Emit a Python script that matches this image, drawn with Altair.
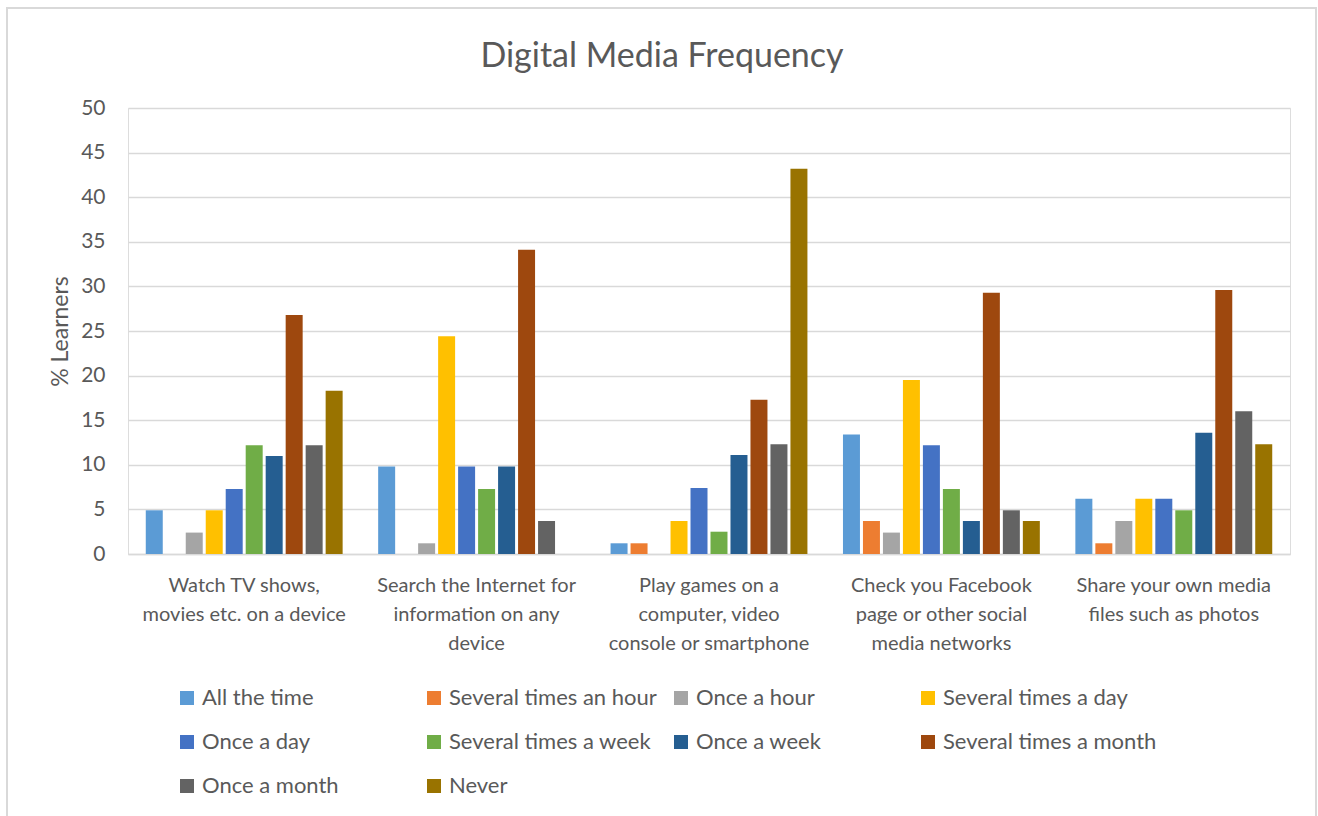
import altair as alt
import pandas as pd

# Activities (x categories); "\n" marks where each axis label wraps
categories = [
    "Watch TV shows,\nmovies etc. on a device",
    "Search the Internet for\ninformation on any\ndevice",
    "Play games on a\ncomputer, video\nconsole or smartphone",
    "Check you Facebook\npage or other social\nmedia networks",
    "Share your own media\nfiles such as photos",
]

# Frequency answers (series), in legend order
frequencies = [
    "All the time",
    "Several times an hour",
    "Once a hour",
    "Several times a day",
    "Once a day",
    "Several times a week",
    "Once a week",
    "Several times a month",
    "Once a month",
    "Never",
]

colors = [
    "#5B9BD5", "#ED7D31", "#A5A5A5", "#FFC000", "#4472C4",
    "#70AD47", "#255E91", "#9E480E", "#636363", "#997300",
]

# % of learners per frequency, one list per activity
watch_tv = [4.9, 0.0, 2.4, 4.9, 7.3, 12.2, 11.0, 26.8, 12.2, 18.3]
search_internet = [9.8, 0.0, 1.2, 24.4, 9.8, 7.3, 9.8, 34.1, 3.7, 0.0]
play_games = [1.2, 1.2, 0.0, 3.7, 7.4, 2.5, 11.1, 17.3, 12.3, 43.2]
check_facebook = [13.4, 3.7, 2.4, 19.5, 12.2, 7.3, 3.7, 29.3, 4.9, 3.7]
share_media = [6.2, 1.2, 3.7, 6.2, 6.2, 4.9, 13.6, 29.6, 16.0, 12.3]

series_by_activity = [watch_tv, search_internet, play_games, check_facebook, share_media]

rows = []
for cat, vals in zip(categories, series_by_activity):
    for freq, v in zip(frequencies, vals):
        rows.append({"activity": cat, "frequency": freq, "pct": v})
df = pd.DataFrame(rows)

FONT = "Lato"
GREY = "#595959"
GRID = "#d9d9d9"

bars = alt.Chart(df).mark_bar().encode(
    x=alt.X(
        "activity:N",
        sort=categories,
        title=None,
        scale=alt.Scale(paddingInner=0.14, paddingOuter=0.07),
        axis=alt.Axis(
            labelAngle=0,
            labelExpr="split(datum.label, '\\n')",
            labelLineHeight=29,
            labelFontSize=20,
            labelColor=GREY,
            labelFont=FONT,
            labelPadding=21,
            labelLimit=400,
            ticks=False,
            domainColor=GRID,
            domainWidth=1.5,
            grid=False,
        ),
    ),
    xOffset=alt.XOffset(
        "frequency:N",
        sort=frequencies,
        scale=alt.Scale(paddingInner=0.15, paddingOuter=0.075),
    ),
    y=alt.Y(
        "pct:Q",
        title="% Learners",
        scale=alt.Scale(domain=[0, 50], nice=False),
        axis=alt.Axis(
            values=list(range(0, 51, 5)),
            labelFontSize=21,
            labelColor=GREY,
            labelFont=FONT,
            labelPadding=23,
            ticks=False,
            domain=False,
            gridColor=GRID,
            gridWidth=1.5,
            titleFontSize=23,
            titleFont=FONT,
            titleColor=GREY,
            titleFontWeight="normal",
            titlePadding=8,
        ),
    ),
    color=alt.Color(
        "frequency:N",
        sort=frequencies,
        scale=alt.Scale(domain=frequencies, range=colors),
        legend=alt.Legend(
            title=None,
            orient="none",
            direction="horizontal",
            legendX=48,
            legendY=579,
            columns=4,
            gridAlign="all",
            columnPadding=7,
            rowPadding=22,
            symbolType="square",
            symbolSize=196,
            symbolStrokeWidth=0,
            labelFontSize=22,
            labelFont=FONT,
            labelColor=GREY,
            labelOffset=4,
            labelLimit=400,
            padding=0,
        ),
    ),
)

# light frame around the whole figure
frame = alt.Chart(pd.DataFrame({"k": [0]})).mark_rect(
    fill=None, stroke=GRID, strokeWidth=2, clip=False
).encode(
    x=alt.value(-121), x2=alt.value(1188),
    y=alt.value(-100), y2=alt.value(720),
)

chart = alt.layer(frame, bars).properties(
    width=1162,
    height=446,
    autosize=alt.AutoSizeParams(type="none"),
    padding={"left": 128, "top": 108, "right": 28, "bottom": 262},
    title=alt.TitleParams(
        "Digital Media Frequency",
        font=FONT,
        fontSize=34,
        fontWeight="normal",
        color=GREY,
        anchor="middle",
        offset=0,
        dx=-47,
        dy=67,
    ),
).configure_view(stroke=None).configure(background="white")

chart.save("out.html", embed_options={"renderer": "svg", "actions": False})
